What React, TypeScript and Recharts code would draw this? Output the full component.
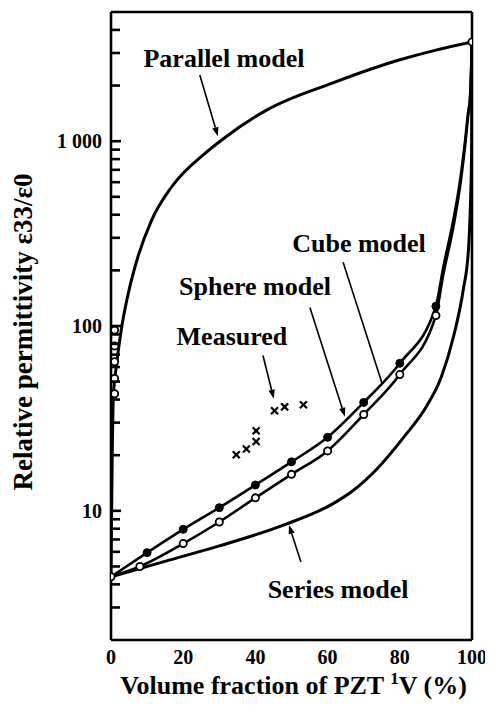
import React from 'react';
import {
  ComposedChart,
  Line,
  Scatter,
  XAxis,
  YAxis,
  ReferenceLine,
  ReferenceDot,
} from 'recharts';

// ---------- data ----------
const parallelX = [0, 0.14, 0.36, 0.64, 1.57, 2.96, 4.78, 7.32, 11.24, 16.77, 25.97, 30.58, 43.1, 61.3, 79.8, 90, 100];
const parallelY = [4.4, 8.8, 21.1, 41.1, 62.4, 98.4, 150, 232, 373, 565, 857, 1012, 1472, 2061, 2748, 3110, 3440];

const cubeX = [0, 10, 20, 30, 40, 50, 60, 70, 80, 90, 92.05, 94.8, 96.7, 98.1, 99.0, 99.4, 100];
const cubeY = [4.4, 5.94, 7.94, 10.4, 13.8, 18.4, 25, 38.6, 62.8, 128, 208, 373, 614, 1012, 1472, 1667, 3440];

const sphereX = [0, 8, 20, 30, 40, 50, 60, 70, 80, 90, 92.05, 94.8, 96.7, 98.1, 99.0, 99.4, 100];
const sphereY = [4.4, 5.0, 6.65, 8.7, 11.75, 15.75, 21.1, 33.2, 54.6, 114, 190, 340, 570, 950, 1400, 1600, 3440];

const seriesX = [0, 15.4, 30, 48.5, 61.4, 66.9, 73.6, 81, 87.5, 91.5, 94.9, 97.6, 99, 99.6, 99.9, 100];
const seriesY = [4.4, 5.36, 6.46, 8.47, 10.9, 12.8, 16.8, 24.9, 37, 53, 88, 158, 256, 479, 893, 3440];

const cubeMarkX = [10, 20, 30, 40, 50, 60, 70, 80, 90];
const cubeMarkY = [5.94, 7.94, 10.4, 13.8, 18.4, 25, 38.6, 62.8, 128];

const sphereMarkX = [0, 8, 20, 30, 40, 50, 60, 70, 80, 90];
const sphereMarkY = [4.4, 5.0, 6.65, 8.7, 11.75, 15.75, 21.1, 33.2, 54.6, 114];

const parallelMarkX = [1.0, 1.0, 1.0, 1.0, 1.0, 100];
const parallelMarkY = [95, 78, 64, 52, 43, 3440];

const measuredX = [34.7, 37.5, 40.2, 40.2, 45.3, 48.1, 53.3];
const measuredY = [20.1, 21.6, 23.7, 27.1, 34.8, 36.5, 37.5];

const xTicks = [0, 20, 40, 60, 80, 100];
const yTicks = [
  3, 4, 5, 6, 7, 8, 9,
  10, 20, 30, 40, 50, 60, 70, 80, 90,
  100, 200, 300, 400, 500, 600, 700, 800, 900,
  1000, 2000, 3000, 4000,
];
const yTickLabels: Record<number, string> = { 10: '10', 100: '100', 1000: '1 000' };
const xDomain: [number, number] = [0, 100];
const yDomain: [number, number] = [2, 5000];

// annotations: [label, x, y]
const annotationText: [string, number, number][] = [
  ['Parallel model', 31.3, 2817],
  ['Cube model', 68.7, 280],
  ['Sphere model', 39.9, 165.6],
  ['Measured', 33.5, 88.8],
  ['Series model', 62.9, 3.78],
];
// pointer lines: [x1, y1, x2, y2, arrowhead]
const pointerLines: [number, number, number, number, boolean][] = [
  [24.6, 2278, 29.6, 1064, true],
  [64.3, 221, 75.1, 48.8, false],
  [55.1, 126, 64.8, 32.3, true],
  [42.1, 69.2, 45.1, 40.4, true],
  [52.6, 5.29, 49.3, 8.39, true],
];

const zip = (xs: number[], ys: number[]) => xs.map((x, i) => ({ x, y: ys[i] }));

const parallelData = zip(parallelX, parallelY);
const cubeData = zip(cubeX, cubeY);
const sphereData = zip(sphereX, sphereY);
const seriesData = zip(seriesX, seriesY);
const cubeMarks = zip(cubeMarkX, cubeMarkY);
const sphereMarks = zip(sphereMarkX, sphereMarkY);
const parallelMarks = zip(parallelMarkX, parallelMarkY);
const measuredMarks = zip(measuredX, measuredY);

const FONT = '"Liberation Serif", "DejaVu Serif", serif';

// y ticks drawn on the inside of the frame, labels only on decades
const YTick = (props: any) => {
  const { x, y, payload } = props;
  const label = yTickLabels[payload.value];
  return (
    <g>
      <rect x={x} y={y - 1.3} width={label ? 10 : 9} height={2.6} fill="#000" />
      {label && (
        <text x={x - 9} y={y} dy="0.35em" textAnchor="end" fontFamily={FONT} fontWeight="bold" fontSize={20} fill="#000">
          {label}
        </text>
      )}
    </g>
  );
};

const XTick = (props: any) => {
  const { x, y, payload } = props;
  return (
    <text x={x} y={y + 24} textAnchor="middle" fontFamily={FONT} fontWeight="bold" fontSize={20} fill="#000">
      {payload.value}
    </text>
  );
};

const FilledDot = (props: any) => {
  const { cx, cy } = props;
  return <circle cx={cx} cy={cy} r={4} fill="#000" stroke="#000" strokeWidth={1} />;
};
const OpenDot = (props: any) => {
  const { cx, cy } = props;
  return <circle cx={cx} cy={cy} r={3.6} fill="#fff" stroke="#000" strokeWidth={1.8} />;
};
const Cross = (props: any) => {
  const { cx, cy } = props;
  const s = 3.5;
  return (
    <g stroke="#000" strokeWidth={2.2}>
      <line x1={cx - s} y1={cy - s} x2={cx + s} y2={cy + s} />
      <line x1={cx - s} y1={cy + s} x2={cx + s} y2={cy - s} />
    </g>
  );
};

const makePointer = (head: boolean) => (props: any) => {
  const { x1, y1, x2, y2 } = props;
  const ang = Math.atan2(y2 - y1, x2 - x1);
  const L = 9;
  const W = 3.2;
  const bx = x2 - L * Math.cos(ang);
  const by = y2 - L * Math.sin(ang);
  const px = -Math.sin(ang) * W;
  const py = Math.cos(ang) * W;
  return (
    <g>
      <line x1={x1} y1={y1} x2={head ? bx : x2} y2={head ? by : y2} stroke="#000" strokeWidth={1.6} />
      {head && <polygon points={`${x2},${y2} ${bx + px},${by + py} ${bx - px},${by - py}`} fill="#000" />}
    </g>
  );
};

const makeText = (label: string) => (props: any) => {
  const { cx, cy } = props;
  return (
    <text x={cx} y={cy} dy="0.35em" textAnchor="middle" fontFamily={FONT} fontWeight="bold" fontSize={26} fill="#000">
      {label}
    </text>
  );
};

const XTitle = (props: any) => {
  const vb = props.viewBox;
  return (
    <text x={vb.x + vb.width / 2 + 2} y={vb.y + 54} textAnchor="middle" fontFamily={FONT} fontWeight="bold" fontSize={26} fill="#000">
      Volume fraction of PZT <tspan fontSize={17} dy={-10}>1</tspan>
      <tspan dy={10}>V (%)</tspan>
    </text>
  );
};

const YTitle = (props: any) => {
  const vb = props.viewBox;
  const cx = vb.x - 28;
  const cy = vb.y + vb.height / 2 + 6;
  return (
    <text
      x={cx}
      y={cy}
      dy="0.35em"
      transform={`rotate(-90 ${cx} ${cy})`}
      textAnchor="middle"
      fontFamily={FONT}
      fontWeight="bold"
      fontSize={27}
      fill="#000"
    >
      Relative permittivity ε33/ε0
    </text>
  );
};

const frameStroke = { stroke: '#000', strokeWidth: 2.6 };

export default function App() {
  return (
    <ComposedChart width={485} height={700} margin={{ top: 4, right: 21, bottom: 8, left: 43 }}>
      <XAxis
        dataKey="x"
        type="number"
        domain={xDomain}
        ticks={xTicks}
        tick={<XTick />}
        tickSize={0}
        tickMargin={0}
        tickLine={false}
        axisLine={false}
        height={60}
        allowDataOverflow
        label={{ content: <XTitle /> }}
      />
      <YAxis
        dataKey="y"
        scale="log"
        type="number"
        domain={yDomain}
        ticks={yTicks}
        interval={0}
        minTickGap={0}
        tick={<YTick />}
        tickSize={0}
        tickMargin={0}
        tickLine={false}
        axisLine={false}
        width={60}
        allowDataOverflow
        label={{ content: <YTitle /> }}
      />
      <ReferenceLine x={xDomain[0]} {...frameStroke} ifOverflow="visible" />
      <ReferenceLine x={xDomain[1]} {...frameStroke} ifOverflow="visible" />
      <ReferenceLine y={yDomain[0]} {...frameStroke} ifOverflow="visible" />
      <ReferenceLine y={yDomain[1]} {...frameStroke} ifOverflow="visible" />
      <Line data={parallelData} dataKey="y" type="monotone" stroke="#000" strokeWidth={3} dot={false} isAnimationActive={false} />
      <Line data={seriesData} dataKey="y" type="monotone" stroke="#000" strokeWidth={3} dot={false} isAnimationActive={false} />
      <Line data={cubeData} dataKey="y" type="monotone" stroke="#000" strokeWidth={2.6} dot={false} isAnimationActive={false} />
      <Line data={sphereData} dataKey="y" type="monotone" stroke="#000" strokeWidth={2.6} dot={false} isAnimationActive={false} />
      <Scatter data={cubeMarks} dataKey="y" shape={<FilledDot />} isAnimationActive={false} />
      <Scatter data={sphereMarks} dataKey="y" shape={<OpenDot />} isAnimationActive={false} />
      <Scatter data={parallelMarks} dataKey="y" shape={<OpenDot />} isAnimationActive={false} />
      <Scatter data={measuredMarks} dataKey="y" shape={<Cross />} isAnimationActive={false} />
      {pointerLines.map(([ax, ay, bx, by, head], i) => (
        <ReferenceLine
          key={`p${i}`}
          segment={[{ x: ax, y: ay }, { x: bx, y: by }]}
          shape={makePointer(head)}
          ifOverflow="visible"
        />
      ))}
      {annotationText.map(([label, ax, ay], i) => (
        <ReferenceDot key={`t${i}`} x={ax} y={ay} r={1} shape={makeText(label)} ifOverflow="visible" />
      ))}
    </ComposedChart>
  );
}
